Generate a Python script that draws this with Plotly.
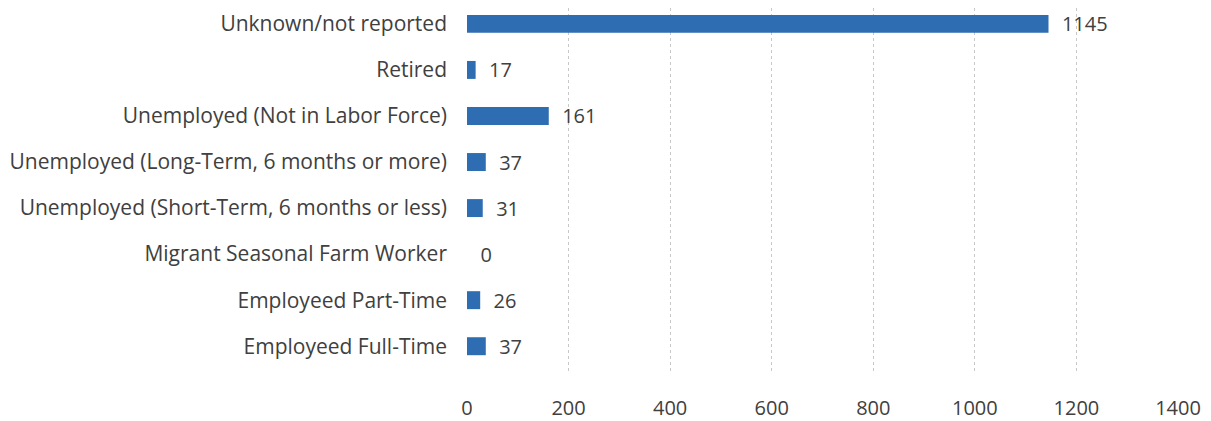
import plotly.graph_objects as go

categories = [
    "Employeed Full-Time",
    "Employeed Part-Time",
    "Migrant Seasonal Farm Worker",
    "Unemployed (Short-Term, 6 months or less)",
    "Unemployed (Long-Term, 6 months or more)",
    "Unemployed (Not in Labor Force)",
    "Retired",
    "Unknown/not reported",
]
values = [37, 26, 0, 31, 37, 161, 17, 1145]
x_ticks = [0, 200, 400, 600, 800, 1000, 1200, 1400]

font_family = "Open Sans, Liberation Sans, sans-serif"
text_color = "#404040"
pad = "\u00a0\u00a0"

fig = go.Figure(
    go.Bar(
        y=categories,
        x=values,
        orientation="h",
        marker=dict(color="#2f6db3", line=dict(width=0)),
        text=[pad + str(v) for v in values],
        textposition="outside",
        constraintext="none",
        textfont=dict(family=font_family, size=20, color=text_color),
        cliponaxis=False,
    )
)

fig.update_layout(
    width=1203,
    height=413,
    margin=dict(l=459, r=33, t=0, b=46),
    paper_bgcolor="white",
    plot_bgcolor="white",
    bargap=0.61,
    showlegend=False,
    uniformtext=dict(mode=False),
    font=dict(family=font_family, size=20, color=text_color),
)
fig.update_xaxes(
    range=[0, 1400],
    tickvals=x_ticks,
    showgrid=True,
    gridcolor="#c8c8c8",
    griddash="dot",
    gridwidth=1,
    zeroline=False,
    showline=False,
    ticks="",
    ticklabelstandoff=22,
    tickfont=dict(family=font_family, size=20, color=text_color),
)
fig.update_yaxes(
    categoryorder="array",
    categoryarray=categories,
    range=[-0.56, 7.345],
    showgrid=False,
    zeroline=False,
    showline=False,
    ticks="",
    ticklabelstandoff=19,
    tickfont=dict(family=font_family, size=21, color=text_color),
)

fig.write_html("out.html")
